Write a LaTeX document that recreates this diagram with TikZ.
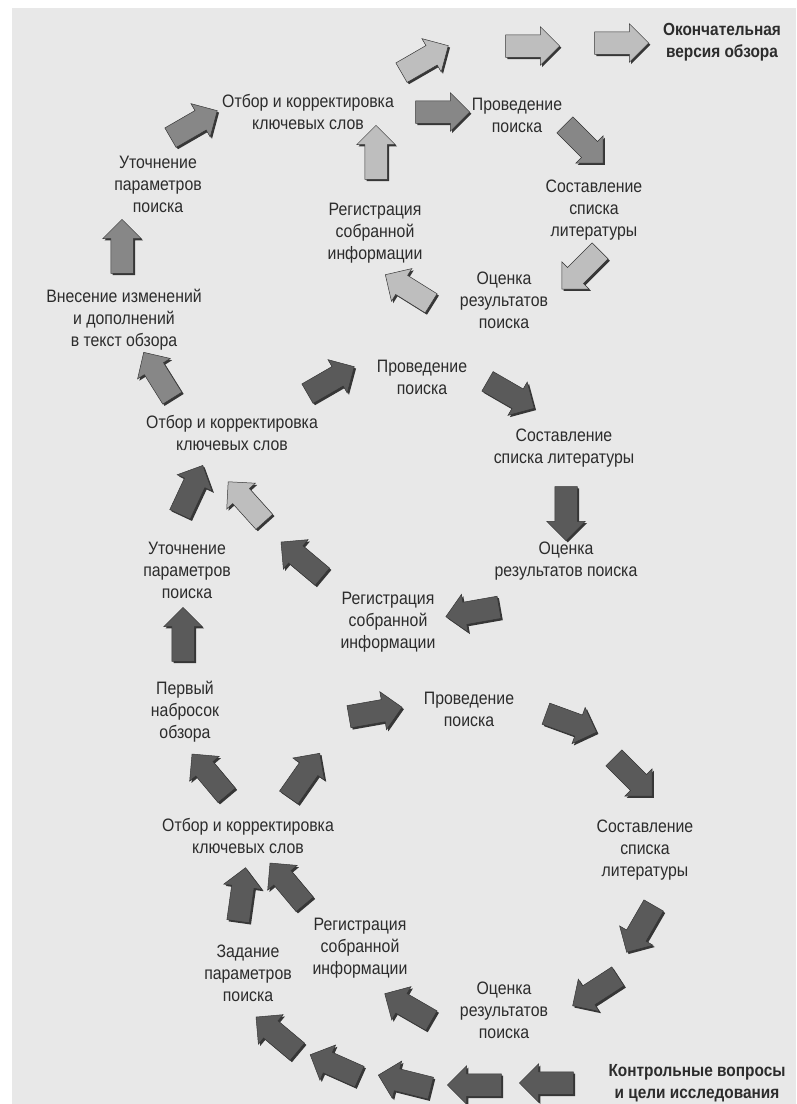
\documentclass[tikz,border=0pt]{standalone}
\usepackage{fontspec}
\setmainfont{Liberation Sans}[FakeStretch=0.88]
\usetikzlibrary{shapes.arrows,shadows}
\definecolor{page}{HTML}{E8E8E8}
\definecolor{txt}{HTML}{2C2C2C}
\definecolor{arlight}{HTML}{BEBEBE}
\definecolor{armid}{HTML}{878787}
\definecolor{ardark}{HTML}{5A5A5A}
\definecolor{arshade}{HTML}{363636}
\begin{document}
\begin{tikzpicture}[x=1pt,y=-1pt,
  lbl/.style={align=center,text=txt,font=\fontsize{18}{22}\selectfont},
  hd/.style={align=center,text=txt,font=\fontsize{17.5}{22}\selectfont\bfseries},
  blk/.style={single arrow,minimum height=54pt,inner xsep=0pt,inner ysep=11pt,
    single arrow head extend=8pt,draw=arshade,line width=0.5pt,
    drop shadow={shadow xshift=1.8pt,shadow yshift=-1.8pt,fill=arshade,opacity=1}},
  lt/.style={blk,fill=arlight},
  md/.style={blk,fill=armid},
  dk/.style={blk,fill=ardark}]
\useasboundingbox (0,0) rectangle (796,1104);
\fill[white] (0,0) rectangle (796,1104);
\fill[page] (12,8) rectangle (796,1104);
% top loop
\node[hd] (fin) at (722,42) {Окончательная\\версия обзора};
\node[lbl] (ot1) at (308,112) {Отбор и корректировка\\ключевых слов};
\node[lbl] (pr1) at (517,115) {Проведение\\поиска};
\node[lbl] (so1) at (594,210) {Составление\\списка\\литературы};
\node[lbl] (oc1) at (504,300) {Оценка\\результатов\\поиска};
\node[lbl] (re1) at (375,233) {Регистрация\\собранной\\информации};
\node[lbl] (ut1) at (158,184) {Уточнение\\параметров\\поиска};
\node[lbl] (vn) at (124,320) {Внесение изменений\\и дополнений\\в текст обзора};
\node[lt,rotate=30] (a1) at (420,62) {};
\node[lt] (a2) at (527,46) {};
\node[lt] (a3) at (616,43) {};
\node[md] (a4) at (437,112) {};
\node[md,rotate=-45] (a5) at (580,140) {};
\node[lt,rotate=225] (a6) at (585,266) {};
\node[lt,rotate=148] (a7) at (413,292) {};
\node[lt,rotate=90] (a8) at (376,158) {};
\node[md,rotate=30] (a9) at (189,127) {};
\node[md,rotate=90] (a10) at (122,252) {};
% middle loop
\node[lbl] (pr2) at (422,377) {Проведение\\поиска};
\node[lbl] (so2) at (564,448) {Составление\\списка литературы};
\node[lbl] (oc2) at (566,561) {Оценка\\результатов поиска};
\node[lbl] (re2) at (388,622) {Регистрация\\собранной\\информации};
\node[lbl] (ot2) at (232,433) {Отбор и корректировка\\ключевых слов};
\node[lbl] (ut2) at (187,570) {Уточнение\\параметров\\поиска};
\node[lbl] (pe) at (185,712) {Первый\\набросок\\обзора};
\node[md,rotate=122] (b1) at (161,380) {};
\node[dk,rotate=30] (b2) at (326,383) {};
\node[dk,rotate=-30] (b3) at (506,392) {};
\node[dk,rotate=-90] (b4) at (566,508) {};
\node[dk,rotate=190] (b5) at (478,611) {};
\node[dk,rotate=140] (b6) at (306,563) {};
\node[lt,rotate=132] (b7) at (250,506) {};
\node[dk,rotate=65] (b8) at (189,495) {};
\node[dk,rotate=90] (b9) at (183,640) {};
% bottom loop
\node[lbl] (pr3) at (469,709) {Проведение\\поиска};
\node[lbl] (so3) at (645,850) {Составление\\списка\\литературы};
\node[lbl] (oc3) at (504,1010) {Оценка\\результатов\\поиска};
\node[lbl] (re3) at (360,948) {Регистрация\\собранной\\информации};
\node[lbl] (za) at (248,973) {Задание\\параметров\\поиска};
\node[lbl] (ot3) at (248,836) {Отбор и корректировка\\ключевых слов};
\node[hd] (ko) at (697,1083) {Контрольные вопросы\\и цели исследования};
\node[dk,rotate=10] (c1) at (370,713) {};
\node[dk,rotate=-20] (c2) at (566,721) {};
\node[dk,rotate=-45] (c3) at (629,773) {};
\node[dk,rotate=240] (c4) at (643,924) {};
\node[dk,rotate=213] (c5) at (600,988) {};
\node[dk,rotate=150] (c6) at (413,1010) {};
\node[dk,rotate=180] (c7) at (552,1083) {};
\node[dk,rotate=180] (c8) at (480,1085) {};
\node[dk,rotate=166] (c9) at (410,1083) {};
\node[dk,rotate=156] (c10) at (340,1068) {};
\node[dk,rotate=140] (c11) at (281,1038) {};
\node[dk,rotate=82] (c12) at (241,900) {};
\node[dk,rotate=130] (c13) at (291,888) {};
\node[dk,rotate=130] (c14) at (213,779) {};
\node[dk,rotate=55] (c15) at (301,780) {};
\end{tikzpicture}
\end{document}
